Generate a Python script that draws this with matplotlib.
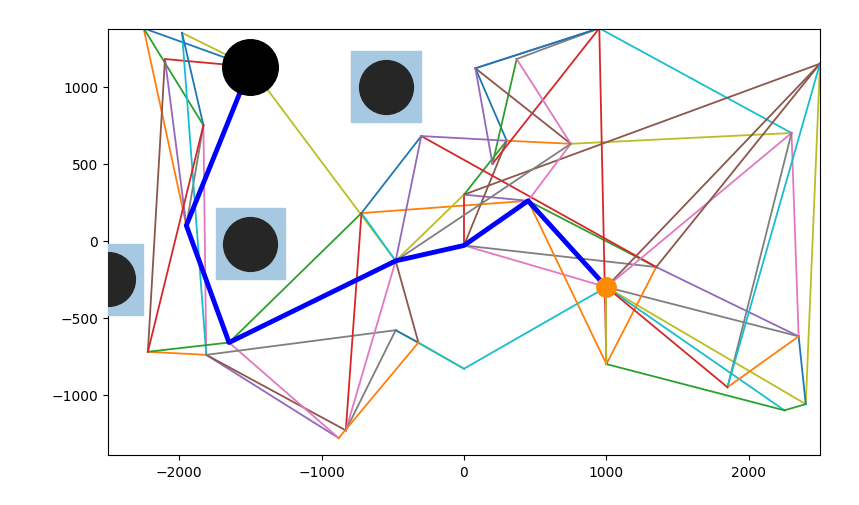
import matplotlib
matplotlib.use("Agg")
import matplotlib.pyplot as plt
from matplotlib.patches import Rectangle

names = ["A","B","C","D","E","F","G","H","S0","I","J","K","L","M","N","O","P","Q","R","S","T","U","V","W","X","Y","GL","Z","AA","AB","AC","AD","AE","AF","AG"]
xs = [-2250,-2100,-1830,-1950,-2220,-1810,-1650,-1980,-1500,-880,-830,-720,-480,-480,-300,-320,0,0,0,300,200,450,80,370,750,950,1000,1000,1350,2300,2500,2350,2400,2250,1850]
ys = [1380,1180,750,100,-720,-740,-660,1350,1130,-1280,-1230,180,-130,-580,680,-660,-30,-830,300,650,500,260,1120,1180,630,1380,-300,-800,-170,700,1150,-620,-1060,-1100,-950]
edges = [("A","S0"),("A","D"),("A","C"),("B","S0"),("B","D"),("B","E"),("C","F"),("C","D"),("H","S0"),("H","F"),("H","C"),
         ("E","F"),("E","G"),("E","C"),("F","I"),("F","J"),("G","I"),("F","M"),("S0","L"),("K","L"),("K","N"),("K","U"),
         ("K","G"),("K","J"),("L","N"),("L","O"),("L","J"),("M","J"),("M","Q"),("O","Q"),("O","M"),("O","I"),("R","S"),
         ("R","P"),("R","U"),("P","S"),("P","GL"),("P","AA"),("L","R"),("Q","GL"),("S","V"),("S","X"),("T","W"),("T","Y"),
         ("V","Y"),("V","X"),("W","X"),("W","Y"),("X","AB"),("Y","AB"),("Y","V"),("U","Z"),("U","AA"),("N","AA"),("N","S"),
         ("GL","AC"),("GL","AB"),("GL","AD"),("GL","AE"),("GL","AF"),("GL","Z"),("Z","AA"),("Z","AF"),("Z","Y"),
         ("AA","AD"),("AA","AC"),("AB","AD"),("AB","AG"),("AC","AE"),("AC","AG"),("AD","AE"),("AG","AD"),("AE","AF"),
         ("GL","AG"),("V","T"),("R","AC"),("U","X"),("L","X"),("Z","GL")]
path = ["S0","D","G","L","P","U","GL"]
obst_x = [-1500,-550,-2500]
obst_y = [-20,1000,-250]

pos = {n:(x,y) for n,x,y in zip(names,xs,ys)}
fig, ax = plt.subplots(figsize=(8.59,5.06), dpi=100)
for a,b in edges:
    ax.plot([pos[a][0],pos[b][0]],[pos[a][1],pos[b][1]], lw=1.3)
for ox,oy in zip(obst_x,obst_y):
    ax.add_patch(Rectangle((ox-245,oy-230),490,460,color="#a6c8e0",zorder=3))
ax.scatter(obst_x, obst_y, s=1500, color="#262626", zorder=4)
ax.plot([pos[n][0] for n in path],[pos[n][1] for n in path],color="blue",lw=3.5,zorder=5)
ax.plot([-1500],[1130],"o",color="black",ms=40,zorder=6)
ax.plot([1000],[-300],"o",color="darkorange",ms=14,zorder=6)
ax.set_xlim(-2500,2500)
ax.set_ylim(-1390,1375)
ax.set_xticks([-2000,-1000,0,1000,2000])
ax.set_yticks([-1000,-500,0,500,1000])
ax.set_position([108/859,1-456/506,712/859,426/506])
fig.savefig("out.png")
